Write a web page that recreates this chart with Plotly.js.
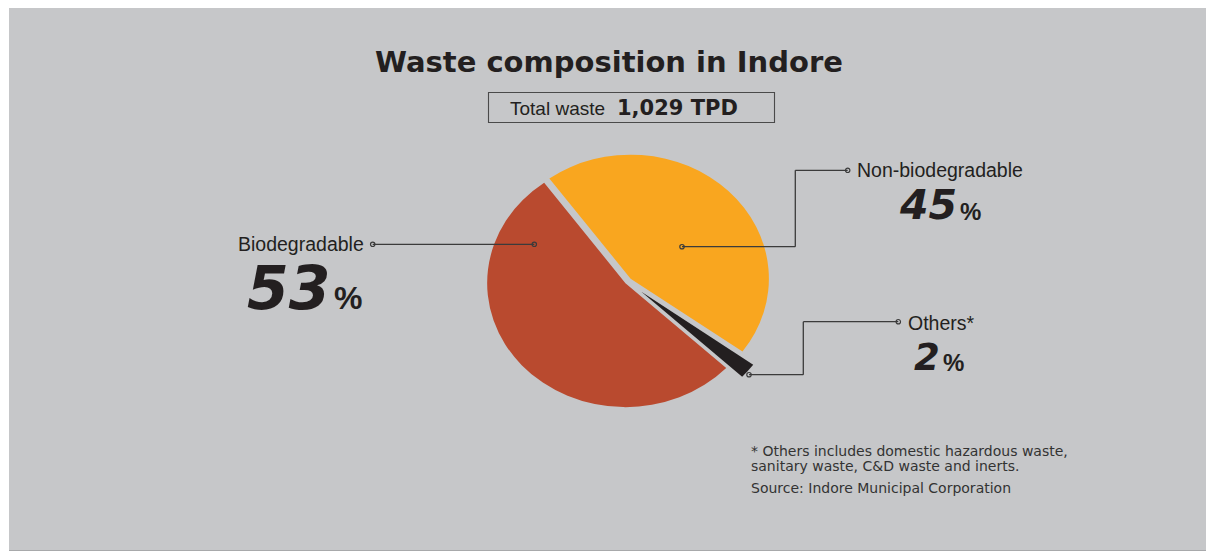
<!DOCTYPE html>
<html>
<head>
<meta charset="utf-8">
<script src="https://cdn.plot.ly/plotly-3.0.1.min.js"></script>
<style>
  html, body { margin: 0; padding: 0; background: #ffffff; }
  #chart { width: 1206px; height: 552px; }
</style>
</head>
<body>
<div id="chart"></div>
<script>
// ---- data ----
const sliceLabels = ['Non-biodegradable', 'Others*', 'Biodegradable'];
const sliceValues = [45, 2, 53];
const sliceColors = ['#f9a61f', '#231f20', '#b94a2f'];
const slicePulls = [0.032, 0.13, 0.02];
const titleText = 'Waste composition in Indore';
const totalLabel = 'Total waste';
const totalValue = '1,029 TPD';
const footnoteLines = [
  '* Others includes domestic hazardous waste,',
  'sanitary waste, C&D waste and inerts.',
  'Source: Indore Municipal Corporation'
];

// ---- layout helpers (pixel -> paper) ----
const W = 1206, H = 552;
const X = p => p / W;
const Y = p => 1 - p / H;
const ink = '#231f20';
const lineCol = '#3b3b3b';

// pie geometry
const pieCx = 627.5, pieCy = 281.5, pieR = 124;
const maxPull = Math.max(...slicePulls);
const half = pieR * (1 + maxPull);
const stretchX = 1.115;

const annotations = [];
function txt(text, x, y, xanchor, font, extra) {
  annotations.push(Object.assign({
    text: text, x: X(x), y: Y(y), xref: 'paper', yref: 'paper',
    xanchor: xanchor, yanchor: 'middle', showarrow: false,
    borderpad: 0, font: font
  }, extra || {}));
}
const labelFont = {family: 'Liberation Sans, Arial, sans-serif', size: 19.5, color: ink};
const bigFont = s => ({family: 'DejaVu Sans, sans-serif', size: s, color: ink, weight: 'bold', style: 'italic'});
const pctFont = s => ({family: 'Liberation Sans, Arial, sans-serif', size: s, color: ink, weight: 'bold'});

txt(titleText, 609, 62, 'center', {family: 'DejaVu Sans, sans-serif', size: 29, color: ink, weight: 'bold'});
txt(totalLabel, 606, 108.5, 'right', {family: 'Liberation Sans, Arial, sans-serif', size: 19, color: ink});
txt(totalValue, 616, 107.7, 'left', {family: 'DejaVu Sans, sans-serif', size: 21, color: ink, weight: 'bold'});

// slice labels
const pctStrings = sliceValues.map(v => String(v));
txt(sliceLabels[2], 365, 243.5, 'right', labelFont);
txt(pctStrings[2], 246, 288, 'left', bigFont(60));
txt('%', 333, 297.5, 'left', pctFont(32));

txt(sliceLabels[0], 856, 170.3, 'left', labelFont);
txt(pctStrings[0], 898, 205, 'left', bigFont(41));
txt('%', 959, 211, 'left', pctFont(24));

txt(sliceLabels[1], 907, 323.3, 'left', labelFont);
txt(pctStrings[1], 913, 357.3, 'left', bigFont(37));
txt('%', 942, 362, 'left', pctFont(24));

const footFont = {family: 'DejaVu Sans, sans-serif', size: 14, color: '#333333'};
txt(footnoteLines[0], 750, 451, 'left', footFont);
txt(footnoteLines[1], 750, 466, 'left', footFont);
txt(footnoteLines[2], 750, 488, 'left', footFont);

// shapes
const shapes = [];
function rect(x0, y0, x1, y1, fill, lineColor, lw, layer) {
  shapes.push({type: 'rect', xref: 'paper', yref: 'paper',
    x0: X(x0), x1: X(x1), y0: Y(y1), y1: Y(y0),
    fillcolor: fill, line: {color: lineColor, width: lw}, layer: layer || 'above'});
}
function seg(x0, y0, x1, y1) {
  shapes.push({type: 'line', xref: 'paper', yref: 'paper',
    x0: X(x0), x1: X(x1), y0: Y(y0), y1: Y(y1),
    line: {color: lineCol, width: 1.3}});
}
function dot(x, y) {
  const r = 2.2;
  shapes.push({type: 'circle', xref: 'paper', yref: 'paper',
    x0: X(x - r), x1: X(x + r), y0: Y(y + r), y1: Y(y - r),
    fillcolor: 'rgba(0,0,0,0)', line: {color: lineCol, width: 1.2}});
}
rect(9, 8, 1206, 550, '#c6c7c9', 'rgba(0,0,0,0)', 0, 'below');
shapes.push({type: 'line', xref: 'paper', yref: 'paper', x0: X(9), x1: 1, y0: Y(550.5), y1: Y(550.5),
  line: {color: '#a8a9ab', width: 1.2}, layer: 'below'});
rect(488.5, 92.5, 774.5, 122.5, 'rgba(0,0,0,0)', '#4a4a4a', 1.1);

// leader lines
seg(372.7, 244.3, 534.3, 244.3); dot(372.7, 244.3); dot(534.3, 244.3);
seg(682, 246.7, 795.3, 246.7); seg(795.3, 246.7, 795.3, 170.3); seg(795.3, 170.3, 847.7, 170.3);
dot(682, 246.7); dot(847.7, 170.3);
seg(749, 374.7, 803.3, 374.7); seg(803.3, 374.7, 803.3, 321.7); seg(803.3, 321.7, 898.3, 321.7);
dot(749, 374.7); dot(898.3, 321.7);

const trace = {
  type: 'pie',
  labels: sliceLabels,
  values: sliceValues,
  sort: false,
  direction: 'clockwise',
  rotation: -36,
  pull: slicePulls,
  marker: {colors: sliceColors, line: {width: 0}},
  textinfo: 'none',
  hoverinfo: 'skip',
  showlegend: false,
  domain: {x: [X(pieCx - half), X(pieCx + half)], y: [Y(pieCy + half), Y(pieCy - half)]}
};

const layout = {
  width: W, height: H,
  margin: {l: 0, r: 0, t: 0, b: 0},
  paper_bgcolor: '#ffffff',
  showlegend: false,
  annotations: annotations,
  shapes: shapes
};

Plotly.newPlot('chart', [trace], layout, {staticPlot: true, displayModeBar: false}).then(gd => {
  const layer = gd.querySelector('.pielayer');
  if (layer) {
    layer.setAttribute('transform',
      'translate(' + pieCx + ',' + pieCy + ') scale(' + stretchX + ',1) translate(' + (-pieCx) + ',' + (-pieCy) + ')');
  }
});
</script>
</body>
</html>
